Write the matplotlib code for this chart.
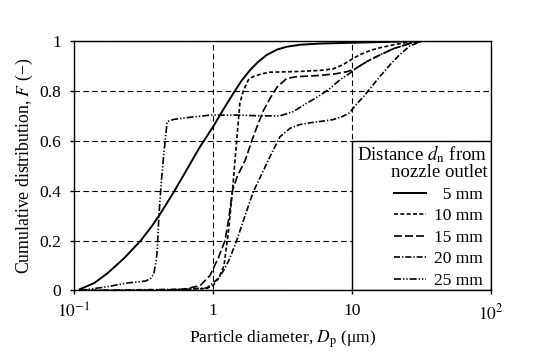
import numpy as np
import matplotlib
matplotlib.use("Agg")
import matplotlib.pyplot as plt
from matplotlib.patches import Rectangle

plt.rcParams['font.family'] = ['Liberation Serif', 'DejaVu Serif']
plt.rcParams['mathtext.fontset'] = 'stix'

## Curves (particle diameter in um, cumulative F)
x_5 = [0.11, 0.14, 0.174, 0.23, 0.302, 0.36, 0.42, 0.524, 0.65, 0.806, 1.0, 1.2,
       1.4, 1.6, 1.85, 2.1, 2.43, 2.9, 3.39, 4.23, 6, 10, 20, 30, 100]
F_5 = [0.005, 0.03, 0.069, 0.13, 0.2, 0.255, 0.31, 0.396, 0.486, 0.576, 0.656, 0.73,
       0.79, 0.84, 0.884, 0.915, 0.944, 0.966, 0.977, 0.985, 0.99, 0.993, 0.997, 1.0, 1.0]

x_10 = [0.11, 0.5, 0.9, 1.0, 1.1, 1.2, 1.3, 1.38, 1.48, 1.56, 1.65, 1.8, 1.95, 2.3,
        2.57, 4.2, 5.85, 7.3, 8.6, 10.2, 11.4, 13.5, 15.9, 20, 25, 31, 100]
F_10 = [0.0, 0.002, 0.008, 0.02, 0.05, 0.1, 0.25, 0.4, 0.6, 0.75, 0.8, 0.845, 0.858, 0.87,
        0.875, 0.878, 0.882, 0.888, 0.905, 0.93, 0.945, 0.962, 0.973, 0.985, 0.995, 1.0, 1.0]

x_15 = [0.11, 0.4, 0.62, 0.81, 0.95, 1.09, 1.22, 1.3, 1.38, 1.5, 1.7, 1.9, 2.1, 2.3,
        2.57, 2.89, 3.39, 4.0, 5.85, 7.5, 9.2, 10.5, 13, 16, 20, 26, 32, 100]
F_15 = [0.0, 0.0, 0.005, 0.02, 0.06, 0.13, 0.2, 0.29, 0.4, 0.46, 0.52, 0.6, 0.665, 0.72,
        0.77, 0.815, 0.85, 0.857, 0.862, 0.868, 0.877, 0.888, 0.92, 0.945, 0.97, 0.99, 1.0, 1.0]

x_20 = [0.11, 0.3, 0.6, 0.9, 1.0, 1.1, 1.19, 1.3, 1.48, 1.7, 1.95, 2.3, 2.64, 3.03,
        3.58, 4.2, 4.97, 6, 7.3, 8.5, 9.6, 10.5, 12, 13.5, 16, 18.8, 22, 26, 32, 100]
F_20 = [0.0, 0.003, 0.005, 0.01, 0.03, 0.05, 0.08, 0.12, 0.2, 0.3, 0.396, 0.48, 0.55, 0.616,
        0.65, 0.665, 0.672, 0.678, 0.685, 0.697, 0.712, 0.74, 0.775, 0.81, 0.86, 0.905, 0.945,
        0.98, 1.0, 1.0]

x_25 = [0.11, 0.173, 0.24, 0.328, 0.36, 0.376, 0.39, 0.397, 0.408, 0.424, 0.443, 0.468,
        0.524, 0.7, 0.96, 1.5, 2.2, 3.03, 3.78, 4.7, 5.7, 6.95, 8.2, 9.6, 11, 13, 16, 20,
        26, 32, 100]
F_25 = [0.0, 0.015, 0.03, 0.038, 0.05, 0.07, 0.12, 0.16, 0.3, 0.43, 0.55, 0.677,
        0.686, 0.695, 0.703, 0.703, 0.7, 0.70, 0.717, 0.75, 0.777, 0.81, 0.845, 0.87, 0.895,
        0.92, 0.945, 0.97, 0.99, 1.0, 1.0]

labels = ['  5 mm ', '10 mm ', '15 mm ', '20 mm ', '25 mm ']
xticks = [0.1, 1, 10, 100]
xticklabels = ['$10^{-1}$', '1', '10', '$10^{2}$']
yticks = [0, 0.2, 0.4, 0.6, 0.8, 1]
yticklabels = ['0', '0.2', '0.4', '0.6', '0.8', '1']

fig = plt.figure(figsize=(5.54, 3.61), dpi=100)
ax = fig.add_axes([0.1336, 0.1953, 0.7527, 0.6911])

lw = 1.2
ax.plot(x_5, F_5, color='k', lw=1.4, ls='-', label=labels[0])
ax.plot(x_10, F_10, color='k', lw=lw, ls=(0, (2.4, 1.4)), label=labels[1])
ax.plot(x_15, F_15, color='k', lw=lw, ls=(0, (4.8, 1.8)), label=labels[2])
ax.plot(x_20, F_20, color='k', lw=lw, ls=(0, (3.6, 1.2, 0.8, 1.2)), label=labels[3])
ax.plot(x_25, F_25, color='k', lw=lw, ls=(0, (4.2, 1.2, 0.8, 1.2, 0.8, 1.2)), label=labels[4])

ax.set_xscale('log')
ax.set_xlim(0.1, 100)
ax.set_ylim(0, 1)
ax.set_xticks(xticks)
ax.set_xticklabels(xticklabels)
ax.minorticks_off()
ax.set_yticks(yticks)
ax.set_yticklabels(yticklabels)
ax.tick_params(direction='out', length=3, width=1, labelsize=12.6, colors='k', pad=6)

ax.grid(True, color='k', linestyle=(0, (5, 3)), linewidth=0.8)
for s in ax.spines.values():
    s.set_linewidth(1.0)

# box that holds the legend, sitting over the grid
box = Rectangle((10, 0), 90, 0.6, facecolor='white', edgecolor='k', lw=1.0, zorder=1.8)
ax.add_patch(box)

leg = ax.legend(loc='upper right', bbox_to_anchor=(0.9996, 0.604), frameon=False,
                fontsize=12.5, title='Distance $d_\\mathrm{n}$ from\nnozzle outlet',
                title_fontsize=13.5, alignment='right', borderpad=0.2, borderaxespad=0,
                handlelength=1.85, handletextpad=0.45, labelspacing=0.31)
leg.get_title().set_linespacing(0.93)
leg.get_title().set_horizontalalignment('right')

ax.set_xlabel('Particle diameter, $D_\\mathrm{p}$ (\u03bcm)', fontsize=12.6, labelpad=4)
ax.set_ylabel('Cumulative distribution, $F$ (\u2212)', fontsize=12.8, labelpad=3)

fig.savefig('out.png', dpi=100)
